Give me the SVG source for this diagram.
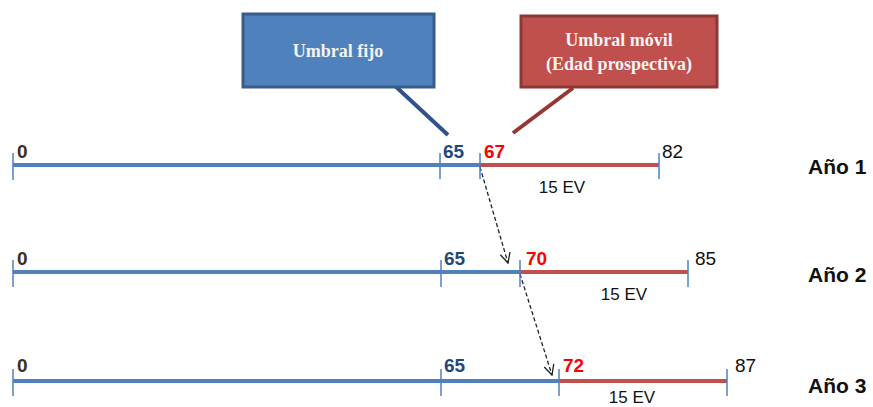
<svg xmlns="http://www.w3.org/2000/svg" width="873" height="407" viewBox="0 0 873 407">
<defs>
<marker id="arr" viewBox="0 0 12 12" refX="11" refY="6" markerWidth="12" markerHeight="12" markerUnits="userSpaceOnUse" orient="auto">
<path d="M1,1 L11,6 L1,11" fill="none" stroke="#222" stroke-width="1.3"/>
</marker>
<filter id="sh" x="-5%" y="-100%" width="110%" height="400%">
<feGaussianBlur stdDeviation="1.5"/>
</filter>
</defs>
<style>
.blue{stroke:#4F81BD;stroke-width:4;fill:none}
.red{stroke:#C0504D;stroke-width:4;fill:none}
.shadow{stroke:#9a9a9a;stroke-width:3;opacity:0.6;fill:none;filter:url(#sh)}
.tick{stroke:#4F81BD;stroke-width:1.5}
.num{font-family:"Liberation Sans",Arial,sans-serif;font-size:19px}
.zero{fill:#3a2f1f;font-weight:bold}
.b65{fill:#1F497D;font-weight:bold}
.r{fill:#FF0000;font-weight:bold}
.k{fill:#111}
.ev{font-family:"Liberation Sans",Arial,sans-serif;font-size:17px;fill:#111}
.year{font-family:"Liberation Sans",Arial,sans-serif;font-size:21px;font-weight:bold;fill:#111}
.box{font-family:"Liberation Serif","Times New Roman",serif;font-size:18px;font-weight:bold;fill:#f4f4f4}
.dash{stroke:#222;stroke-width:1.3;stroke-dasharray:4,2.5;fill:none}
</style>
<rect width="873" height="407" fill="#fff"/>

<g id="connectors">
<line x1="393" y1="84" x2="448" y2="135" stroke="#2F528F" stroke-width="4"/>
<line x1="573" y1="88" x2="513" y2="133" stroke="#953735" stroke-width="4"/>
<line class="dash" x1="480" y1="167" x2="508" y2="263" marker-end="url(#arr)"/>
<line class="dash" x1="520" y1="274" x2="552" y2="375" marker-end="url(#arr)"/>
</g>

<g id="box-fijo">
<rect x="243" y="14" width="191" height="73" fill="#4F81BD" stroke="#385D8A" stroke-width="3"/>
<text class="box" x="338" y="57" text-anchor="middle">Umbral fijo</text>
</g>

<g id="box-movil">
<rect x="521" y="16" width="196" height="71" fill="#C0504D" stroke="#8C3836" stroke-width="3"/>
<text class="box" x="619" y="46" text-anchor="middle">Umbral móvil</text>
<text class="box" x="619" y="70" text-anchor="middle">(Edad prospectiva)</text>
</g>

<g id="year1">
<line class="shadow" x1="14" y1="168" x2="480" y2="168"/>
<line class="shadow" x1="480" y1="168" x2="659" y2="168"/>
<line class="blue" x1="13" y1="165" x2="480" y2="165"/>
<line class="red" x1="480" y1="165" x2="659" y2="165"/>
<line class="tick" x1="13" y1="153" x2="13" y2="180"/>
<line class="tick" x1="440" y1="153" x2="440" y2="179"/>
<line class="tick" x1="480" y1="153" x2="480" y2="179"/>
<line class="tick" x1="659" y1="153" x2="659" y2="179"/>
<text class="num zero" x="17" y="158">0</text>
<text class="num b65" x="443" y="158">65</text>
<text class="num r" x="484" y="158">67</text>
<text class="num k" x="662" y="158">82</text>
<text class="ev" x="562" y="193" text-anchor="middle">15 EV</text>
<text class="year" x="808" y="174">Año 1</text>
</g>

<g id="year2">
<line class="shadow" x1="14" y1="275" x2="520" y2="275"/>
<line class="shadow" x1="520" y1="275" x2="688" y2="275"/>
<line class="blue" x1="13" y1="272" x2="520" y2="272"/>
<line class="red" x1="520" y1="272" x2="688" y2="272"/>
<line class="tick" x1="13" y1="260" x2="13" y2="287"/>
<line class="tick" x1="441" y1="260" x2="441" y2="287"/>
<line class="tick" x1="520" y1="260" x2="520" y2="287"/>
<line class="tick" x1="688" y1="260" x2="688" y2="287"/>
<text class="num zero" x="17" y="265">0</text>
<text class="num b65" x="444" y="265">65</text>
<text class="num r" x="526" y="265">70</text>
<text class="num k" x="695" y="265">85</text>
<text class="ev" x="624" y="300" text-anchor="middle">15 EV</text>
<text class="year" x="808" y="282">Año 2</text>
</g>

<g id="year3">
<line class="shadow" x1="14" y1="385" x2="559" y2="385"/>
<line class="shadow" x1="559" y1="385" x2="727" y2="385"/>
<line class="blue" x1="13" y1="381" x2="559" y2="381"/>
<line class="red" x1="559" y1="381" x2="727" y2="381"/>
<line class="tick" x1="13" y1="369" x2="13" y2="396"/>
<line class="tick" x1="441" y1="369" x2="441" y2="396"/>
<line class="tick" x1="559" y1="369" x2="559" y2="396"/>
<line class="tick" x1="727" y1="369" x2="727" y2="396"/>
<text class="num zero" x="17" y="372">0</text>
<text class="num b65" x="444" y="372">65</text>
<text class="num r" x="563" y="372">72</text>
<text class="num k" x="735" y="372">87</text>
<text class="ev" x="632" y="403" text-anchor="middle">15 EV</text>
<text class="year" x="808" y="393">Año 3</text>
</g>
</svg>
